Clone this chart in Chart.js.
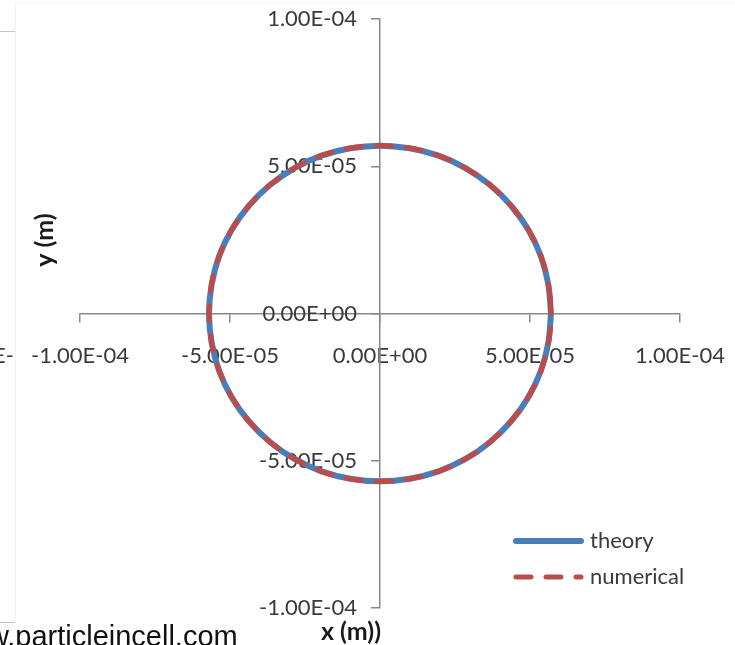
<!DOCTYPE html>
<html>
<head>
<meta charset="utf-8">
<script src="https://cdn.jsdelivr.net/npm/chart.js@4.4.1/dist/chart.umd.min.js"></script>
<style>
  html, body { margin: 0; padding: 0; background: #fff; }
  body { width: 735px; height: 645px; overflow: hidden; position: relative; }
  #c { position: absolute; left: 0; top: 0; }
  .rule { position: absolute; }
  #cut { position: absolute; left: -59px; top: 342px; width: 73px; text-align: right;
         font: 22px Lato, sans-serif; color: #3a3a3a; white-space: nowrap; line-height: 26px; }
  #url { position: absolute; left: -54px; top: 622px; font: 29px "Liberation Sans", Arial, sans-serif;
         color: #111; line-height: 29px; white-space: nowrap; }
</style>
</head>
<body>
<div class="rule" style="left:15px;top:3px;width:1px;height:619px;background:#f1f1f1"></div>
<div class="rule" style="left:15px;top:3px;width:720px;height:1px;background:#f4f4f4"></div>
<div class="rule" style="left:0;top:31px;width:15px;height:1px;background:#c4c4c4"></div>
<div class="rule" style="left:0;top:622px;width:15px;height:1px;background:#c4c4c4"></div>
<canvas id="c" width="735" height="645"></canvas>
<div id="cut">E-</div>
<div id="url">www.particleincell.com</div>
<script>
// Orbit of a charged particle in the x-y plane (metres)
const seriesNames = ['theory', 'numerical'];

// analytic orbit, sampled every 10 degrees
const theoryX = [5.70e-5, 5.61e-5, 5.36e-5, 4.94e-5, 4.37e-5, 3.66e-5, 2.85e-5, 1.95e-5, 0.99e-5, 0,
  -0.99e-5, -1.95e-5, -2.85e-5, -3.66e-5, -4.37e-5, -4.94e-5, -5.36e-5, -5.61e-5, -5.70e-5,
  -5.61e-5, -5.36e-5, -4.94e-5, -4.37e-5, -3.66e-5, -2.85e-5, -1.95e-5, -0.99e-5, 0,
  0.99e-5, 1.95e-5, 2.85e-5, 3.66e-5, 4.37e-5, 4.94e-5, 5.36e-5, 5.61e-5, 5.70e-5];
const theoryY = [0, 0.99e-5, 1.95e-5, 2.85e-5, 3.66e-5, 4.37e-5, 4.94e-5, 5.36e-5, 5.61e-5, 5.70e-5,
  5.61e-5, 5.36e-5, 4.94e-5, 4.37e-5, 3.66e-5, 2.85e-5, 1.95e-5, 0.99e-5, 0,
  -0.99e-5, -1.95e-5, -2.85e-5, -3.66e-5, -4.37e-5, -4.94e-5, -5.36e-5, -5.61e-5, -5.70e-5,
  -5.61e-5, -5.36e-5, -4.94e-5, -4.37e-5, -3.66e-5, -2.85e-5, -1.95e-5, -0.99e-5, 0];

// integrated orbit, its own time steps
const numericalX = [5.68e-5, 5.51e-5, 5.17e-5, 4.67e-5, 4.03e-5, 3.27e-5, 2.41e-5, 1.48e-5, 0.50e-5,
  -0.50e-5, -1.48e-5, -2.41e-5, -3.27e-5, -4.03e-5, -4.67e-5, -5.17e-5, -5.51e-5, -5.68e-5,
  -5.68e-5, -5.51e-5, -5.17e-5, -4.67e-5, -4.03e-5, -3.27e-5, -2.41e-5, -1.48e-5, -0.50e-5,
  0.50e-5, 1.48e-5, 2.41e-5, 3.27e-5, 4.03e-5, 4.67e-5, 5.17e-5, 5.51e-5, 5.68e-5, 5.68e-5];
const numericalY = [0.50e-5, 1.48e-5, 2.41e-5, 3.27e-5, 4.03e-5, 4.67e-5, 5.17e-5, 5.51e-5, 5.68e-5,
  5.68e-5, 5.51e-5, 5.17e-5, 4.67e-5, 4.03e-5, 3.27e-5, 2.41e-5, 1.48e-5, 0.50e-5,
  -0.50e-5, -1.48e-5, -2.41e-5, -3.27e-5, -4.03e-5, -4.67e-5, -5.17e-5, -5.51e-5, -5.68e-5,
  -5.68e-5, -5.51e-5, -5.17e-5, -4.67e-5, -4.03e-5, -3.27e-5, -2.41e-5, -1.48e-5, -0.50e-5, 0.50e-5];

const tickValues = [-1.0e-4, -5.0e-5, 0, 5.0e-5, 1.0e-4];
const axisTitles = { x: 'x (m))', y: 'y (m)' };

const axisColor = '#878787';
const textColor = '#3a3a3a';
const tickFont = { family: 'Lato, sans-serif', size: 22 };

// plot box, in pixels
const pad = { left: 80, right: 55, top: 19, bottom: 37 };
const plotWidth = 735 - pad.left - pad.right;
// the y labels sit this many pixels left of the vertical axis line
const yLabelGap = 23;
const yLabelAnchor = -yLabelGap * (tickValues[tickValues.length - 1] - tickValues[0]) / plotWidth;

// spreadsheet-style scientific notation: 5.00E-05
function sci(v) {
  const s = Number(v).toExponential(2);
  const parts = s.split('e');
  const n = parseInt(parts[1], 10);
  return parts[0] + 'E' + (n < 0 ? '-' : '+') + String(Math.abs(n)).padStart(2, '0');
}

function toPoints(xs, ys) { return xs.map((x, i) => ({ x: x, y: ys[i] })); }

// axis titles and the legend box
const decorations = {
  id: 'decorations',
  afterDraw(chart) {
    const ctx = chart.ctx;
    ctx.save();
    ctx.fillStyle = '#1a1a1a';
    ctx.font = 'bold 25px Lato, sans-serif';
    ctx.textAlign = 'center';
    ctx.textBaseline = 'middle';
    ctx.fillText(axisTitles.x, 351, 632);
    ctx.save();
    ctx.translate(45, 240);
    ctx.rotate(-Math.PI / 2);
    ctx.fillText(axisTitles.y, 0, 0);
    ctx.restore();

    const rows = [541, 577];
    chart.data.datasets.forEach((ds, i) => {
      const y = rows[i];
      ctx.save();
      ctx.strokeStyle = ds.borderColor;
      ctx.lineWidth = ds.borderWidth;
      ctx.lineCap = 'round';
      ctx.setLineDash(ds.borderDash || []);
      ctx.beginPath();
      ctx.moveTo(516, y);
      ctx.lineTo(581, y);
      ctx.stroke();
      ctx.restore();
      ctx.fillStyle = textColor;
      ctx.font = '22px Lato, sans-serif';
      ctx.textAlign = 'left';
      ctx.textBaseline = 'middle';
      ctx.fillText(ds.label, 590, y);
    });
    ctx.restore();
  }
};

function axisOptions(pos) {
  return {
    type: 'linear',
    position: pos,
    min: tickValues[0],
    max: tickValues[tickValues.length - 1],
    afterBuildTicks(scale) { scale.ticks = tickValues.map(v => ({ value: v })); },
    afterFit(scale) {
      scale.paddingLeft = 0; scale.paddingRight = 0;
      scale.paddingTop = 0; scale.paddingBottom = 0;
    },
    grid: { drawOnChartArea: false, drawTicks: true, tickLength: 8, color: axisColor, lineWidth: 1.5 },
    border: { display: true, color: axisColor, width: 1.5 },
    ticks: { autoSkip: false, maxRotation: 0, font: tickFont, color: textColor, callback: v => sci(v) }
  };
}

const xAxis = axisOptions({ y: 0 });
xAxis.ticks.padding = 21;

// vertical axis line with its tick marks
const yAxis = axisOptions({ x: 0 });
yAxis.ticks.display = false;

// tick labels of the vertical axis
const yLabelAxis = axisOptions({ x: yLabelAnchor });
yLabelAxis.grid = { display: false };
yLabelAxis.border = { display: false };

new Chart(document.getElementById('c'), {
  type: 'scatter',
  data: {
    datasets: [
      { label: seriesNames[0], data: toPoints(theoryX, theoryY), showLine: true, order: 1,
        borderColor: '#4A7EBB', borderWidth: 6, pointRadius: 0, tension: 0.33, fill: false,
        borderJoinStyle: 'round' },
      { label: seriesNames[1], data: toPoints(numericalX, numericalY), showLine: true, order: 0,
        borderColor: '#BE4B48', borderWidth: 5, borderDash: [15, 15], borderCapStyle: 'round',
        borderJoinStyle: 'round', pointRadius: 0, tension: 0.33, fill: false }
    ]
  },
  options: {
    responsive: false,
    animation: false,
    devicePixelRatio: 1,
    layout: { padding: pad },
    plugins: { legend: { display: false }, tooltip: { enabled: false } },
    scales: { x: xAxis, y: yAxis, yLabels: yLabelAxis }
  },
  plugins: [decorations]
});
</script>
</body>
</html>
